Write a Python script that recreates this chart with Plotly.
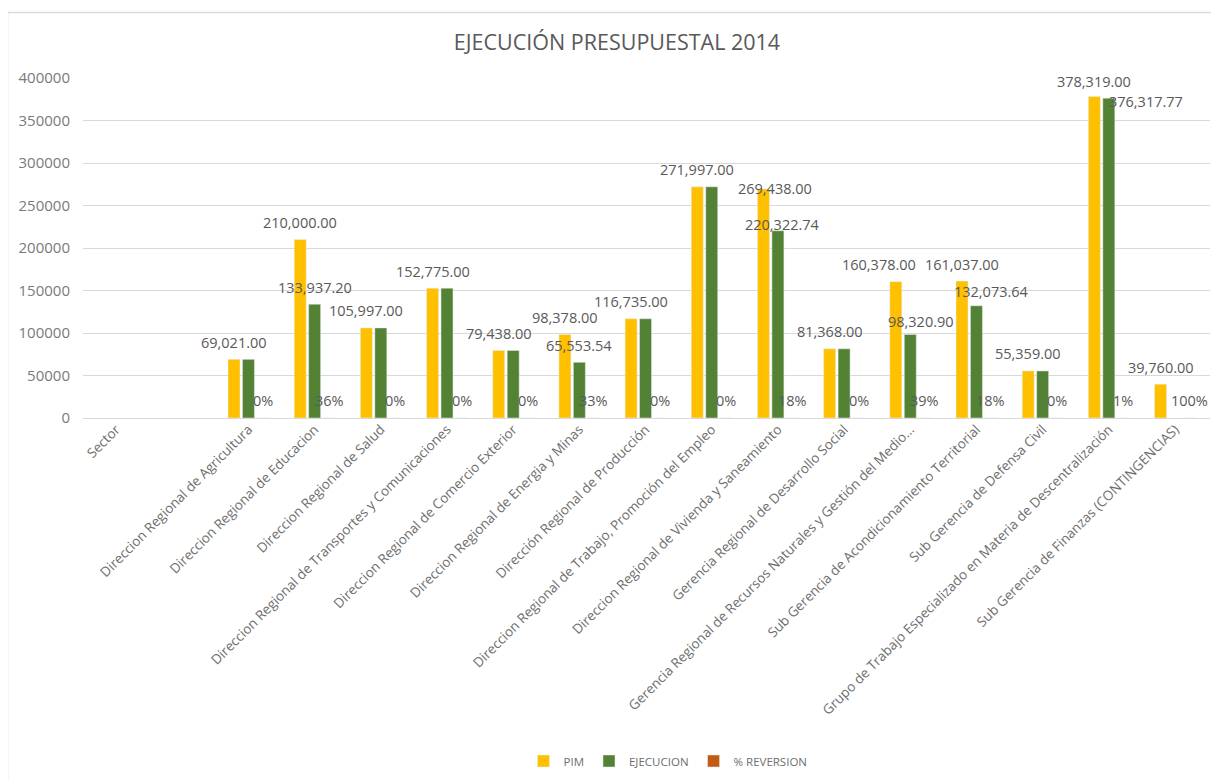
import plotly.graph_objects as go

categories = [
    "Sector",
    " ",
    "Direccion Regional de Agricultura",
    "Direccion Regional de Educacion",
    "Direccion Regional de Salud",
    "Direccion Regional de Transportes y Comunicaciones",
    "Direccion Regional de Comercio Exterior",
    "Direccion Regional de Energia y Minas",
    "Dirección Regional de Producción",
    "Direccion Regional de Trabajo, Promoción del Empleo",
    "Direccion Regional de Vivienda y Saneamiento",
    "Gerencia Regional de Desarrollo Social",
    "Gerencia Regional de Recursos Naturales y Gestión del Medio...",
    "Sub Gerencia de Acondicionamiento Territorial",
    "Sub Gerencia de Defensa Civil",
    "Grupo de Trabajo Especializado en Materia de Descentralización",
    "Sub Gerencia de Finanzas (CONTINGENCIAS)",
]

pim = [None, None, 69021.00, 210000.00, 105997.00, 152775.00, 79438.00, 98378.00,
       116735.00, 271997.00, 269438.00, 81368.00, 160378.00, 161037.00, 55359.00,
       378319.00, 39760.00]

ejecucion = [None, None, 69021.00, 133937.20, 105997.00, 152775.00, 79438.00, 65553.54,
             116735.00, 271997.00, 220322.74, 81368.00, 98320.90, 132073.64, 55359.00,
             376317.77, None]

reversion = [None, None, 0.00, 0.36, 0.00, 0.00, 0.00, 0.33, 0.00, 0.00, 0.18, 0.00,
             0.39, 0.18, 0.00, 0.01, 1.00]

y_ticks = [0, 50000, 100000, 150000, 200000, 250000, 300000, 350000, 400000]

# ---- styling ----
C_PIM = "#FFC000"
C_EJE = "#548235"
C_REV = "#C55A11"
TXT = "#595959"
FONT = "Open Sans"

OFF = 8  # page body margin
W, H = 1219 - OFF, 780 - OFF
ML, MR, MT, MB = 83 - OFF, 9, 78 - OFF, 362
PW, PH = W - ML - MR, H - MT - MB

# label nudges (pixel dx, label-centre height above bar top)
SLOT = 14.5
LABEL_UP = 17
nudge = {
    ("pim", 10): (12, 0),
    ("pim", 12): (-17, 17),
    ("pim", 15): (0, 15),
    ("eje", 10): (5, 6),
    ("eje", 12): (11, 13),
    ("eje", 13): (15, 14),
    ("eje", 15): (37, -3),
}

fig = go.Figure()
fig.add_trace(go.Bar(name="PIM", x=categories, y=pim, marker_color=C_PIM))
fig.add_trace(go.Bar(name="EJECUCION", x=categories, y=ejecucion, marker_color=C_EJE))
fig.add_trace(go.Bar(name="% REVERSION", x=categories, y=reversion, marker_color=C_REV))

ann = []
lab_font = dict(family=FONT, size=14.5, color=TXT)
for i, cat in enumerate(categories):
    p, e, r = pim[i], ejecucion[i], reversion[i]
    if p is not None:
        dx, up = nudge.get(("pim", i), (0, LABEL_UP))
        ann.append(dict(x=cat, y=p, text=f"{p:,.2f}", showarrow=False, xshift=-SLOT + dx,
                        yshift=up, yanchor="middle", xanchor="center", font=lab_font))
    if e is not None and e != p:
        dx, up = nudge.get(("eje", i), (0, LABEL_UP))
        ann.append(dict(x=cat, y=e, text=f"{e:,.2f}", showarrow=False, xshift=dx,
                        yshift=up, yanchor="middle", xanchor="center", font=lab_font))
    if r is not None:
        ann.append(dict(x=cat, y=r, text=f"{r:.0%}", showarrow=False, xshift=SLOT,
                        yshift=18, yanchor="middle", xanchor="center", font=lab_font))

# chart-area border (screen coords x=7.5, y=12.5)
shapes = [dict(type="rect", xref="paper", yref="paper",
               x0=(7.5 - OFF - ML) / PW, x1=(W + 10 - ML) / PW,
               y0=-(H + 10 - MT - PH) / PH, y1=(MT + PH - (12.5 - OFF)) / PH,
               line=dict(color="#d9d9d9", width=1.5), fillcolor="rgba(0,0,0,0)", layer="below")]

fig.update_layout(
    width=W, height=H,
    margin=dict(l=ML, r=MR, t=MT, b=MB, autoexpand=False),
    paper_bgcolor="white", plot_bgcolor="white",
    barmode="group", bargap=0.345, bargroupgap=0.17,
    title=dict(text="EJECUCIÓN PRESUPUESTAL 2014", x=(617 - OFF) / W, xanchor="center",
               y=1 - (42 - OFF) / H, yanchor="middle",
               font=dict(family=FONT, size=21.5, color=TXT)),
    font=dict(family=FONT, color=TXT),
    xaxis=dict(type="category", tickangle=-45, showgrid=False, ticks="",
               tickfont=dict(family=FONT, size=13.5, color="#6e6e6e"),
               showline=False, zeroline=False),
    yaxis=dict(range=[0, 400000], tickvals=y_ticks, tickformat="d",
               showgrid=True, gridcolor="#d9d9d9", gridwidth=1,
               zeroline=True, zerolinecolor="#d9d9d9", zerolinewidth=1,
               showline=False, ticks="", ticklabelstandoff=12,
               tickfont=dict(family=FONT, size=15, color="#7a7a7a")),
    legend=dict(orientation="h", x=(668 - OFF - ML) / PW, xanchor="center",
                y=-(761 - OFF - MT - PH) / PH, yanchor="middle",
                font=dict(family=FONT, size=11.5, color="#6e6e6e"),
                traceorder="normal", itemwidth=30),
    annotations=ann,
    shapes=shapes,
    showlegend=True,
)

fig.write_html("out.html")
